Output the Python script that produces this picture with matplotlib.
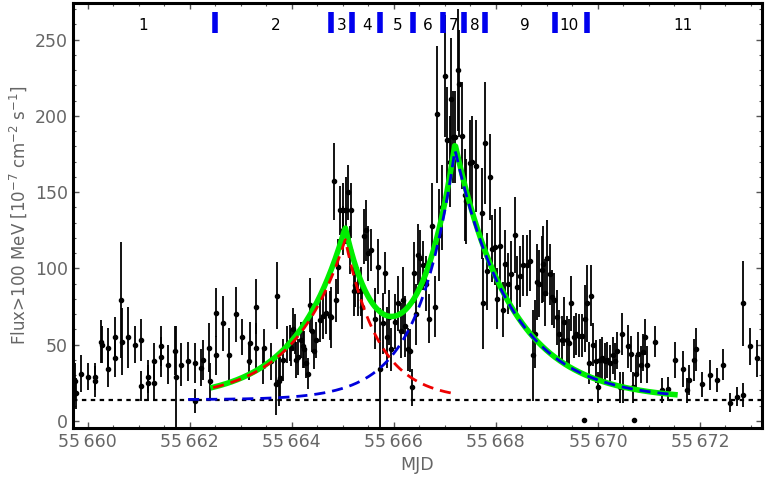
import numpy as np
import matplotlib
matplotlib.use("Agg")
import matplotlib.pyplot as plt
from matplotlib.ticker import FuncFormatter, MultipleLocator

# ---- data ----
mjd = [55659.75, 55659.78, 55659.88, 55660.01, 55660.14, 55660.14, 55660.27, 55660.29,
       55660.40, 55660.40, 55660.53, 55660.53, 55660.65, 55660.68, 55660.79, 55660.92,
       55661.05, 55661.05, 55661.18, 55661.18, 55661.31, 55661.31, 55661.44, 55661.44,
       55661.58, 55661.71, 55661.74, 55661.84, 55661.97, 55662.10, 55662.11, 55662.23,
       55662.26, 55662.38, 55662.39, 55662.51, 55662.52, 55662.65, 55662.77, 55662.90,
       55663.03, 55663.16, 55663.18, 55663.31, 55663.31, 55663.44, 55663.46, 55663.59,
       55663.70, 55663.72, 55663.75, 55663.78, 55663.83, 55663.90, 55663.96, 55663.99,
       55664.03, 55664.06, 55664.09, 55664.12, 55664.19, 55664.22, 55664.25, 55664.29,
       55664.31, 55664.35, 55664.39, 55664.43, 55664.48, 55664.55, 55664.61, 55664.68,
       55664.75, 55664.78, 55664.82, 55664.86, 55664.91, 55664.95, 55665.01, 55665.01,
       55665.06, 55665.10, 55665.14, 55665.17, 55665.22, 55665.25, 55665.30, 55665.35,
       55665.38, 55665.41, 55665.45, 55665.50, 55665.56, 55665.63, 55665.69, 55665.74,
       55665.79, 55665.82, 55665.86, 55665.91, 55665.95, 55666.02, 55666.08,
       55666.15, 55666.18, 55666.22, 55666.28, 55666.31, 55666.35, 55666.39, 55666.43,
       55666.48, 55666.52, 55666.58, 55666.64, 55666.69, 55666.75, 55666.81, 55666.84,
       55666.88, 55666.94, 55667.00, 55667.05, 55667.10, 55667.13, 55667.16, 55667.21,
       55667.26, 55667.28, 55667.33, 55667.39, 55667.42, 55667.49, 55667.54, 55667.62,
       55667.72, 55667.74, 55667.79, 55667.83, 55667.88, 55667.93, 55667.98, 55668.02,
       55668.08, 55668.14, 55668.19, 55668.23, 55668.30, 55668.37, 55668.42, 55668.47,
       55668.53, 55668.61, 55668.67, 55668.73, 55668.76, 55668.80, 55668.85, 55668.90,
       55668.93, 55668.96, 55669.00, 55669.07, 55669.10, 55669.14, 55669.19, 55669.24,
       55669.29, 55669.33, 55669.39, 55669.44, 55669.48, 55669.53, 55669.58, 55669.63,
       55669.68, 55669.75, 55669.79, 55669.82, 55669.87, 55669.91, 55669.96, 55670.01,
       55670.04, 55670.08, 55670.14, 55670.18, 55670.24, 55670.29, 55670.33, 55670.38,
       55670.43, 55670.47, 55670.50, 55670.60, 55670.64, 55670.69, 55670.74, 55670.79,
       55670.84, 55670.88, 55670.92, 55670.97, 55671.12, 55671.25, 55671.38, 55671.51,
       55671.66, 55671.75, 55671.79, 55671.89, 55671.92, 55672.05, 55672.20, 55672.33,
       55672.45, 55672.59, 55672.72, 55672.84, 55672.85, 55672.98, 55673.11]
flux = [26, 18, 31, 29, 29, 26, 52, 50,
        48, 34, 55, 41, 79, 52, 55, 50,
        53, 23, 25, 29, 25, 39, 42, 49,
        37, 46, 29, 37, 39, 38, 13, 35,
        40, 48, 26, 71, 43, 64, 43, 70,
        55, 39, 51, 75, 48, 36, 48, 39,
        24, 82, 26, 28, 40, 50, 51, 48,
        60, 57, 40, 42, 53, 49, 47, 38,
        31, 76, 59, 46, 53, 66, 69, 71,
        69, 68, 157, 79, 101, 138, 138, 125,
        138, 150, 112, 138, 85, 89, 85, 85,
        75, 121, 125, 110, 112, 67, 101, 34,
        64, 97, 55, 68, 47, 65, 77,
        59, 79, 62, 47, 46, 22, 97, 70,
        109, 107, 102, 90, 67, 128, 75, 201,
        122, 140, 226, 184, 170, 211, 186, 186,
        230, 221, 187, 148, 144, 169, 170, 167,
        136, 77, 182, 98, 160, 113, 114, 80,
        115, 73, 103, 90, 96, 122, 88, 95,
        102, 102, 105, 43, 57, 91, 90, 99,
        103, 84, 107, 96, 81, 79, 68, 57,
        53, 65, 53, 51, 77, 55, 57, 56,
        56, 67, 77, 38, 82, 50, 39, 22,
        40, 41, 39, 40, 38, 43, 39, 46,
        22, 57, 22, 49, 44, 22, 31, 44,
        37, 45, 55, 37, 52, 20, 21, 40,
        34, 20, 27, 40, 47, 24, 30, 27,
        37, 12, 16, 17, 77, 49, 41]
err = [12, 10, 12, 9, 9, 10, 14, 12,
       13, 12, 13, 12, 38, 22, 20, 12,
       14, 10, 12, 11, 12, 12, 13, 13,
       13, 16, 33, 14, 13, 13, 8, 12,
       13, 16, 12, 16, 13, 18, 18, 18,
       12, 12, 14, 18, 16, 12, 12, 12,
       20, 22, 16, 14, 14, 12, 12, 12,
       14, 13, 12, 12, 12, 14, 12, 10,
       10, 18, 14, 12, 12, 14, 15, 14,
       16, 20, 25, 14, 18, 16, 18, 16,
       22, 18, 16, 18, 16, 14, 16, 16,
       15, 18, 20, 18, 14, 20, 18, 40,
       20, 14, 20, 18, 14, 18, 18,
       18, 22, 20, 14, 14, 12, 20, 20,
       20, 18, 16, 18, 16, 28, 20, 45,
       30, 28, 40, 35, 30, 40, 30, 30,
       40, 35, 35, 30, 28, 28, 30, 30,
       30, 30, 40, 25, 28, 22, 25, 20,
       25, 18, 22, 20, 22, 25, 20, 20,
       20, 20, 20, 30, 22, 25, 22, 22,
       25, 22, 25, 20, 18, 18, 18, 16,
       16, 16, 16, 16, 18, 14, 14, 14,
       14, 22, 25, 14, 20, 14, 14, 10,
       14, 14, 12, 12, 12, 12, 12, 12,
       10, 14, 10, 14, 12, 10, 12, 14,
       12, 12, 12, 12, 10, 8, 8, 12,
       12, 8, 10, 14, 14, 8, 10, 8,
       10, 6, 6, 8, 28, 12, 12]
ul_mjd = [55669.72, 55670.71]
ul_flux = [0.5, 0.5]

baseline = 14.0
# two-component fit parameters: peak time, amplitude, rise, decay
comp1 = dict(t0=55665.05, amp=105.0, tr=1.0, td=0.65, start=55662.46, end=55667.16)
comp2 = dict(t0=55667.20, amp=164.0, tr=0.71, td=1.1, start=55661.97, end=55671.45)
fit_range = (55662.46, 55671.51)

seg_edges = [55662.49, 55664.78, 55665.19, 55665.74, 55666.38, 55666.97,
             55667.37, 55667.78, 55669.16, 55669.78]
seg_labels = ["1", "2", "3", "4", "5", "6", "7", "8", "9", "10", "11"]
seg_label_pos = [55661.08, 55663.69, 55664.98, 55665.48, 55666.08, 55666.67,
                 55667.18, 55667.59, 55668.57, 55669.44, 55671.66]


def flare(t, p):
    dt = t - p["t0"]
    return p["amp"] * np.where(dt < 0, np.exp(dt / p["tr"]), np.exp(-dt / p["td"]))


fig = plt.figure(figsize=(7.66, 4.88), dpi=100)
ax = fig.add_axes([0.095, 0.123, 0.9, 0.871])

ax.errorbar(mjd, flux, yerr=err, fmt="o", color="black", ms=3, elinewidth=1.3,
            capsize=0, zorder=3)
ax.plot(ul_mjd, ul_flux, "o", color="black", ms=3, zorder=3)

ax.axhline(baseline, color="black", ls=(0, (2, 2)), lw=1.6, zorder=2)

tg = np.linspace(*fit_range, 500)
ax.plot(tg, baseline + flare(tg, comp1) + flare(tg, comp2), color="#00ee00", lw=4, zorder=4)
t1 = np.linspace(comp1["start"], comp1["end"], 400)
ax.plot(t1, baseline + flare(t1, comp1), color="#ee0000", ls=(0, (4, 2.5)), lw=2, zorder=5)
t2 = np.linspace(comp2["start"], comp2["end"], 400)
ax.plot(t2, baseline + flare(t2, comp2), color="#0000dd", ls=(0, (4, 2.5)), lw=2, zorder=5)

for e in seg_edges:
    ax.plot([e, e], [254, 268], color="#0000ee", lw=4, solid_capstyle="butt", zorder=6)
for lab, x in zip(seg_labels, seg_label_pos):
    ax.text(x, 259, lab, ha="center", va="center", fontsize=11, color="black")

ax.set_xlim(55659.71, 55673.22)
ax.set_ylim(-4.6, 274)
ax.xaxis.set_major_locator(MultipleLocator(2))
ax.xaxis.set_minor_locator(MultipleLocator(0.5))
ax.yaxis.set_major_locator(MultipleLocator(50))
ax.yaxis.set_minor_locator(MultipleLocator(10))
ax.xaxis.set_major_formatter(FuncFormatter(lambda v, p: f"{int(v)//1000}\u2009{int(v)%1000:03d}"))
ax.tick_params(which="both", direction="in", top=True, right=True, colors="#555555",
               labelcolor="#666666", labelsize=12.5)
ax.tick_params(which="major", length=4, width=1)
ax.tick_params(which="minor", length=2, width=0.8)
for s in ax.spines.values():
    s.set_linewidth(2.2)
    s.set_color("black")
ax.set_xlabel("MJD", color="#666666", fontsize=12.5)
ax.set_ylabel(r"Flux>100 MeV [10$^{-7}$ cm$^{-2}$ s$^{-1}$]", color="#666666", fontsize=12)

fig.savefig("out.png", dpi=100)
